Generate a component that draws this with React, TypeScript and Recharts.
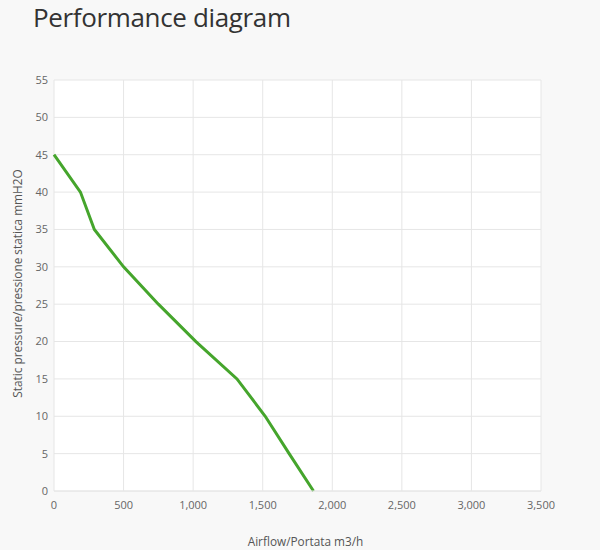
import React from "react";
import { LineChart, Line, XAxis, YAxis, CartesianGrid } from "recharts";

const airflow = [0, 190, 290, 500, 750, 1020, 1315, 1518, 1690, 1865];
const pressure = [45, 40, 35, 30, 25, 20, 15, 10, 5, 0];
const xTicks = [0, 500, 1000, 1500, 2000, 2500, 3000, 3500];
const yTicks = [0, 5, 10, 15, 20, 25, 30, 35, 40, 45, 50, 55];
const title = "Performance diagram";
const xLabel = "Airflow/Portata m3/h";
const yLabel = "Static pressure/pressione statica mmH2O";

const data = airflow.map((x, i) => ({ x, y: pressure[i] }));

const FONT = "'Open Sans', sans-serif";

const YLabel = (props: any) => {
  const { x, y, height } = props.viewBox;
  const cx = x + 17;
  const cy = y + height / 2 - 2;
  return (
    <text
      x={cx}
      y={cy}
      transform={`rotate(-90, ${cx}, ${cy})`}
      textAnchor="middle"
      dominantBaseline="central"
      fill="#555"
      fontSize={11.8}
      fontFamily={FONT}
    >
      {yLabel}
    </text>
  );
};

const XLabel = (props: any) => {
  const { x, y, width, height } = props.viewBox;
  return (
    <text
      x={x + width / 2 + 8}
      y={y + height + 15}
      textAnchor="middle"
      dominantBaseline="hanging"
      fill="#555"
      fontSize={11.8}
      fontFamily={FONT}
    >
      {xLabel}
    </text>
  );
};

export default function App() {
  return (
    <div
      style={{
        position: "absolute",
        left: 0,
        top: 0,
        width: 600,
        height: 550,
        background: "#f8f8f8",
        overflow: "hidden",
      }}
    >
      <div
        style={{
          position: "absolute",
          left: 33,
          top: 2,
          fontFamily: FONT,
          fontSize: 26,
          letterSpacing: -0.35,
          lineHeight: "30px",
          color: "#333",
          whiteSpace: "nowrap",
        }}
      >
        {title}
      </div>
      <LineChart
        width={600}
        height={550}
        data={data}
        margin={{ top: 80, right: 59, bottom: 29, left: 0 }}
      >
        <CartesianGrid stroke="#e6e6e6" fill="#ffffff" />
        <XAxis
          dataKey="x"
          type="number"
          domain={[0, 3500]}
          ticks={xTicks}
          tickFormatter={(v: number) => v.toLocaleString("en-US")}
          height={30}
          axisLine={{ stroke: "#e6e6e6" }}
          tickLine={false}
          tickSize={6}
          tickMargin={4}
          tick={{ fill: "#666", fontSize: 11, fontFamily: FONT }}
          label={<XLabel />}
          interval={0}
        />
        <YAxis
          dataKey="y"
          type="number"
          domain={[0, 55]}
          ticks={yTicks}
          width={54}
          axisLine={false}
          tickLine={false}
          tickSize={6}
          tickMargin={0}
          tick={{ fill: "#666", fontSize: 11, fontFamily: FONT }}
          label={<YLabel />}
          interval={0}
        />
        <Line
          type="linear"
          dataKey="y"
          stroke="#45a52c"
          strokeWidth={3}
          dot={false}
          isAnimationActive={false}
        />
      </LineChart>
    </div>
  );
}
